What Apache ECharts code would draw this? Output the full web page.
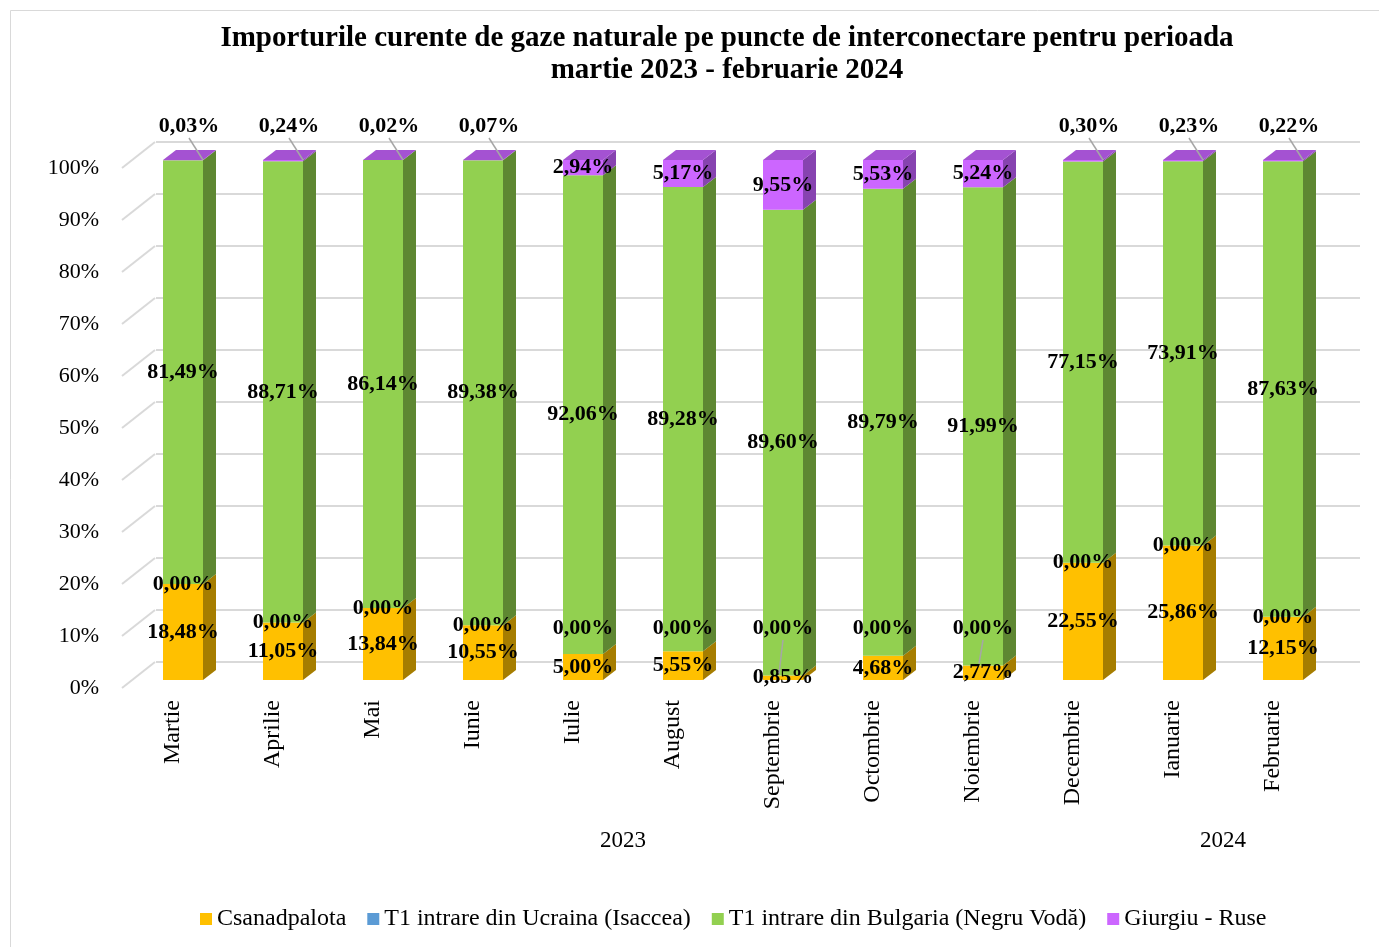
<!DOCTYPE html>
<html>
<head>
<meta charset="utf-8">
<script src="https://cdn.jsdelivr.net/npm/echarts@6/dist/echarts.min.js"></script>
<style>
html,body{margin:0;padding:0;background:#fff;}
#chart{width:1379px;height:947px;}
</style>
</head>
<body>
<div id="chart"></div>
<script>
// ---------- data ----------
const titleLines = ['Importurile curente de gaze naturale pe puncte de interconectare pentru perioada', 'martie 2023 - februarie 2024'];
const categories = ['Martie','Aprilie','Mai','Iunie','Iulie','August','Septembrie','Octombrie','Noiembrie','Decembrie','Ianuarie','Februarie'];
const yearLabels = ['2023','2024'];
const yearSpans = [[0, 9], [10, 11]]; // category index ranges per year
const seriesNames = ['Csanadpalota','T1 intrare din Ucraina (Isaccea)','T1 intrare din Bulgaria (Negru Vodă)','Giurgiu - Ruse'];
const csanadpalota = [18.48, 11.05, 13.84, 10.55, 5.00, 5.55, 0.85, 4.68, 2.77, 22.55, 25.86, 12.15];
const ucraina      = [0, 0, 0, 0, 0, 0, 0, 0, 0, 0, 0, 0];
const bulgaria     = [81.49, 88.71, 86.14, 89.38, 92.06, 89.28, 89.60, 89.79, 91.99, 77.15, 73.91, 87.63];
const giurgiu      = [0.03, 0.24, 0.02, 0.07, 2.94, 5.17, 9.55, 5.53, 5.24, 0.30, 0.23, 0.22];
const yTicks = [0,10,20,30,40,50,60,70,80,90,100];

// ---------- styles ----------
const FONT = '"Liberation Serif","Times New Roman",serif';
const colors = [
  {front:'#FFC000', side:'#A67D00', top:'#D9A300'},
  {front:'#5B9BD5', side:'#3B6A96', top:'#4A84BB'},
  {front:'#92D050', side:'#5E8732', top:'#7AB340'},
  {front:'#CC66FF', side:'#8743B0', top:'#A452D2'}
];
const allSeries = [csanadpalota, ucraina, bulgaria, giurgiu];
const fmt = v => v.toFixed(2).replace('.', ',') + '%';

// stacked bases
const bases = allSeries.map(() => []);
for (let i = 0; i < categories.length; i++) {
  let acc = 0;
  for (let k = 0; k < allSeries.length; k++) { bases[k][i] = acc; acc += allSeries[k][i]; }
}

function makeBarRender(k) {
  const isTop = k === allSeries.length - 1;
  return function (params, api) {
    const i = api.value(0), lo = api.value(1), hi = api.value(2);
    if (hi - lo <= 0 && !isTop) return {type:'group', children:[]};
    const band = api.size([1, 0])[0];
    const w = band * 0.4, dx = band * 0.13, dy = band * 0.10;
    const pLo = api.coord([i, lo]), pHi = api.coord([i, hi]);
    const x0 = pLo[0] - w / 2, x1 = pLo[0] + w / 2;
    const c = colors[k];
    const ch = [];
    if (pLo[1] - pHi[1] > 0) {
      ch.push({type:'rect', shape:{x:x0, y:pHi[1], width:w, height:pLo[1]-pHi[1]}, style:{fill:c.front}});
      ch.push({type:'polygon', shape:{points:[[x1,pLo[1]],[x1+dx,pLo[1]-dy],[x1+dx,pHi[1]-dy],[x1,pHi[1]]]}, style:{fill:c.side}});
    }
    if (isTop) {
      ch.push({type:'polygon', shape:{points:[[x0,pHi[1]],[x0+dx,pHi[1]-dy],[x1+dx,pHi[1]-dy],[x1,pHi[1]]]}, style:{fill:c.top}});
    }
    return {type:'group', children:ch};
  };
}

const barSeries = allSeries.map((arr, k) => ({
  name: seriesNames[k],
  type: 'custom',
  xAxisIndex: 1, yAxisIndex: 1,
  itemStyle: {color: colors[k].front},
  renderItem: makeBarRender(k),
  data: arr.map((v, i) => [i, bases[k][i], bases[k][i] + v]),
  z: 3
}));

// label data: [catIndex, seriesIndex]
const labelData = [];
for (let k = 0; k < allSeries.length; k++) for (let i = 0; i < categories.length; i++) labelData.push([i, k]);

function renderLabel(params, api) {
  const i = api.value(0), k = api.value(1);
  const v = allSeries[k][i], lo = bases[k][i];
  const band = api.size([1, 0])[0];
  const w = band * 0.4;
  const txt = fmt(v);
  const ch = [];
  let p, line = null;
  if (k === 1) {
    const pos = Math.max(lo, 10);
    p = api.coord([i, pos]);
    if (lo < 3) {
      const b = api.coord([i, lo]);
      line = [[p[0], p[1] + 12], [b[0] - 4, b[1] - 2]];
    }
  } else if (k === 3 && v < 1) {
    const t = api.coord([i, 100]);
    p = [t[0] + 6, t[1] - 34];
    line = [[p[0], p[1] + 12], [t[0] + w / 2, t[1]]];
  } else {
    p = api.coord([i, lo + v / 2]);
  }
  if (line) ch.push({type:'line', shape:{x1:line[0][0], y1:line[0][1], x2:line[1][0], y2:line[1][1]}, style:{stroke:'#a6a6a6', lineWidth:1.5}});
  ch.push({type:'text', x:p[0], y:p[1], style:{text:txt, font:'bold 22px ' + FONT, fill:'#000', align:'center', verticalAlign:'middle'}});
  return {type:'group', children:ch};
}

// diagonal floor/wall lines from front plane to back wall
function renderDiag(params, api) {
  const v = api.value(0);
  const p = api.coord([0, v]);
  return {type:'line', shape:{x1:p[0] - 1, y1:p[1], x2:p[0] + 32, y2:p[1] - 26}, style:{stroke:'#d9d9d9', lineWidth:2}};
}

const chart = echarts.init(document.getElementById('chart'), null, {renderer:'canvas'});
const option = {
  animation: false,
  backgroundColor: '#fff',
  textStyle: {fontFamily: FONT},
  graphic: [
    {type:'rect', shape:{x:10.5, y:10.5, width:1400, height:1000}, style:{fill:'none', stroke:'#d9d9d9', lineWidth:1}, z:-10},
    {type:'text', x:727, y:39, style:{text:titleLines[0], font:'bold 29px ' + FONT, fill:'#000', align:'center', verticalAlign:'middle'}},
    {type:'text', x:727, y:71, style:{text:titleLines[1], font:'bold 29px ' + FONT, fill:'#000', align:'center', verticalAlign:'middle'}}
  ],
  legend: {
    left: 195, top: 902,
    itemWidth: 12, itemHeight: 12, itemGap: 21,
    icon: 'rect',
    textStyle: {fontFamily: FONT, fontSize: 24, color: '#000'},
    data: seriesNames
  },
  grid: [
    {left: 156, top: 142, width: 1204, height: 520},   // back wall
    {left: 133, top: 160, width: 1200, height: 520},   // bar plane
    {left: 123, top: 168, width: 1200, height: 520}    // front plane
  ],
  xAxis: [
    {gridIndex:0, type:'value', min:0, max:1, show:false},
    {gridIndex:1, type:'category', data:categories, show:false},
    {gridIndex:2, type:'category', data:categories, position:'bottom',
      axisLine:{show:false}, axisTick:{show:false},
      axisLabel:{rotate:90, margin:12, fontFamily:FONT, fontSize:24, color:'#000', interval:0}},
    {gridIndex:2, type:'value', min:0, max:categories.length, position:'bottom',
      axisLine:{show:false}, axisTick:{show:false}, splitLine:{show:false},
      axisLabel:{customValues: yearSpans.map(s => (s[0] + s[1] + 1) / 2), margin:141, fontFamily:FONT, fontSize:23, color:'#000',
        formatter: function (val) { const idx = yearSpans.findIndex(s => (s[0] + s[1] + 1) / 2 === val); return idx >= 0 ? yearLabels[idx] : ''; }}}
  ],
  yAxis: [
    {gridIndex:0, type:'value', min:0, max:100, interval:10, axisLine:{show:false}, axisTick:{show:false}, axisLabel:{show:false},
      splitLine:{show:true, lineStyle:{color:'#d9d9d9', width:2}}},
    {gridIndex:1, type:'value', min:0, max:100, interval:10, show:false},
    {gridIndex:2, type:'value', min:0, max:100, interval:10, axisLine:{show:false}, axisTick:{show:false}, splitLine:{show:false},
      axisLabel:{margin:24, fontFamily:FONT, fontSize:22, color:'#000', formatter:'{value}%'}}
  ],
  series: [
    {type:'custom', xAxisIndex:3, yAxisIndex:2, renderItem: renderDiag, data: yTicks.map(t => [t]), silent:true, z:1,
      encode:{y:0}},
    ...barSeries,
    {type:'custom', xAxisIndex:1, yAxisIndex:1, renderItem: renderLabel, data: labelData, silent:true, z:10}
  ]
};
chart.setOption(option);
</script>
</body>
</html>
